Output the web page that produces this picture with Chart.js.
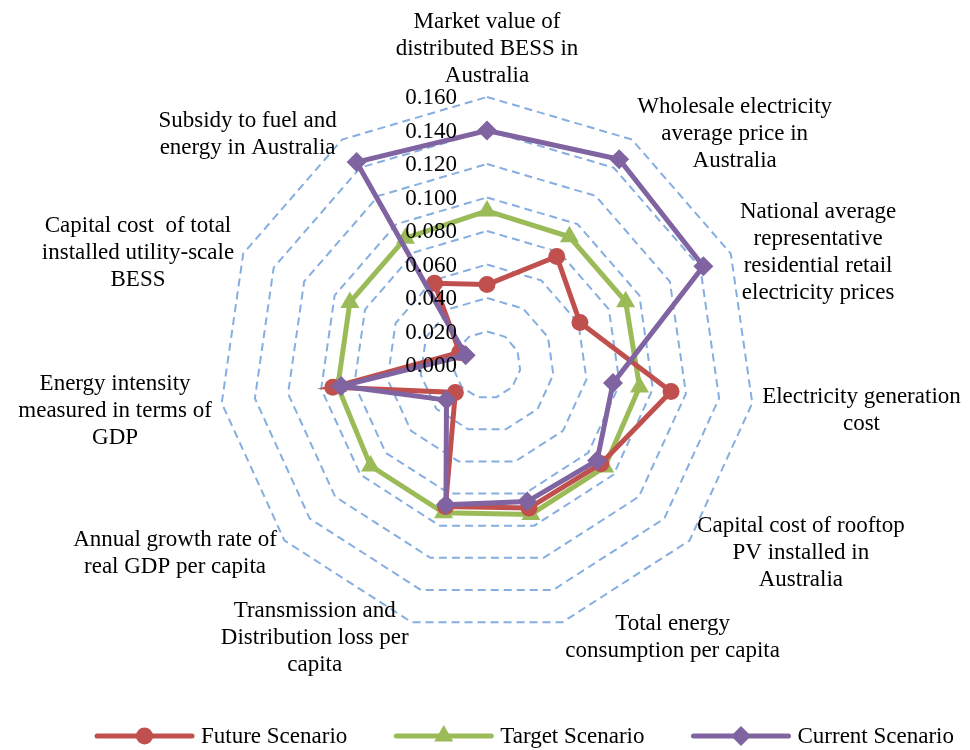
<!DOCTYPE html>
<html>
<head>
<meta charset="utf-8">
<script src="https://cdn.jsdelivr.net/npm/chart.js@4.4.1/dist/chart.umd.min.js"></script>
<style>
  html, body { margin: 0; padding: 0; background: #fff; }
  #wrap { width: 970px; height: 750px; position: relative; }
</style>
</head>
<body>
<div id="wrap"><canvas id="radar" width="970" height="750"></canvas></div>
<script>
// categories clockwise from the top
const categories = [
  ['Market value of', 'distributed BESS in', 'Australia'],
  ['Wholesale electricity', 'average price in', 'Australia'],
  ['National average', 'representative', 'residential retail', 'electricity prices'],
  ['Electricity generation', 'cost'],
  ['Capital cost of rooftop', 'PV installed in', 'Australia'],
  ['Total energy', 'consumption per capita'],
  ['Transmission and', 'Distribution loss per', 'capita'],
  ['Annual growth rate of', 'real GDP per capita'],
  ['Energy intensity', 'measured in terms of', 'GDP'],
  ['Capital cost  of total', 'installed utility-scale', 'BESS'],
  ['Subsidy to fuel and', 'energy in Australia']
];
const seriesNames = ['Future Scenario', 'Target Scenario', 'Current Scenario'];
const futureScenario = [0.048, 0.077, 0.061, 0.111, 0.090, 0.089, 0.088, 0.025, 0.093, 0.018, 0.058];
const targetScenario = [0.092, 0.091, 0.091, 0.092, 0.093, 0.093, 0.092, 0.092, 0.090, 0.090, 0.090];
const currentScenario = [0.140, 0.146, 0.142, 0.076, 0.087, 0.085, 0.087, 0.032, 0.088, 0.014, 0.144];
const tickLabels = ['0.000', '0.020', '0.040', '0.060', '0.080', '0.100', '0.120', '0.140', '0.160'];

const colors = { future: '#C0504D', target: '#9BBB59', current: '#8064A2', grid: '#86AEE0' };
const FONT = '23px "Liberation Serif", "Times New Roman", serif';
const LINE_HEIGHT = 27;

// legend entries: name, colour, point style, radius
const legendItems = [
  [seriesNames[0], colors.future, 'circle', 8.5],
  [seriesNames[1], colors.target, 'triangle', 11],
  [seriesNames[2], colors.current, 'rectRot', 10]
];

const radarText = {
  id: 'radarText',
  afterDatasetsDraw(chart) {
    const scale = chart.scales.r;
    const ctx = chart.ctx;
    ctx.save();
    ctx.font = FONT;
    ctx.fillStyle = '#000';
    ctx.textBaseline = 'middle';

    // value labels sit left of the vertical axis
    ctx.textAlign = 'right';
    scale.ticks.forEach((tick, i) => {
      const y = scale.yCenter - scale.getDistanceFromCenterForValue(tick.value);
      ctx.fillText(tickLabels[i], scale.xCenter - 30, y + 1);
    });

    // category labels, lines centred inside their box
    ctx.textAlign = 'center';
    categories.forEach((lines, i) => {
      const p = scale.getPointPosition(i, scale.drawingArea + 10);
      const width = Math.max(...lines.map(line => ctx.measureText(line).width));
      const height = lines.length * LINE_HEIGHT;
      const dx = p.x - scale.xCenter;
      let cx, top;
      if (Math.abs(dx) < 10) {
        cx = p.x;
        top = p.y < scale.yCenter ? p.y - height + 2 : p.y;
      } else {
        cx = dx > 0 ? p.x + width / 2 : p.x - width / 2;
        top = p.y - height / 2 + (p.y > scale.yCenter ? 6 : 3);
      }
      lines.forEach((line, k) => ctx.fillText(line, cx, top + LINE_HEIGHT * (k + 0.5)));
    });
    ctx.restore();
  },
  afterDraw(chart) {
    const ctx = chart.ctx;
    const y = 736;
    let x = 97;
    ctx.save();
    ctx.font = FONT;
    ctx.textBaseline = 'middle';
    ctx.textAlign = 'left';
    legendItems.forEach(([name, color, style, radius]) => {
      ctx.strokeStyle = color;
      ctx.fillStyle = color;
      ctx.lineWidth = 5;
      ctx.lineCap = 'round';
      ctx.beginPath();
      ctx.moveTo(x, y);
      ctx.lineTo(x + 95, y);
      ctx.stroke();
      Chart.helpers.drawPoint(ctx, { pointStyle: style, radius, rotation: 0, borderWidth: 0 }, x + 47.5, y);
      ctx.fillStyle = '#000';
      ctx.fillText(name, x + 104, y + 1);
      x += 104 + ctx.measureText(name).width + 49;
    });
    ctx.restore();
  }
};

const dataset = (label, data, color, style, radius, order) => ({
  label,
  data,
  borderColor: color,
  backgroundColor: color,
  borderWidth: 5,
  fill: false,
  tension: 0,
  pointStyle: style,
  pointRadius: radius,
  pointBorderWidth: 0,
  pointBackgroundColor: color,
  order
});

new Chart(document.getElementById('radar'), {
  type: 'radar',
  data: {
    labels: categories,
    datasets: [
      dataset(seriesNames[0], futureScenario, colors.future, 'circle', 8.5, 1),
      dataset(seriesNames[1], targetScenario, colors.target, 'triangle', 11, 2),
      dataset(seriesNames[2], currentScenario, colors.current, 'rectRot', 10, 0)
    ]
  },
  options: {
    responsive: false,
    animation: false,
    events: [],
    layout: { padding: { left: 219, right: 215, top: 97, bottom: 117 } },
    plugins: { legend: { display: false }, tooltip: { enabled: false } },
    scales: {
      r: {
        min: 0,
        max: 0.16,
        ticks: { stepSize: 0.02, display: false },
        pointLabels: { display: false },
        angleLines: { display: false },
        grid: { color: colors.grid, lineWidth: 2 },
        border: { dash: [8, 5] }
      }
    }
  },
  plugins: [radarText]
});
</script>
</body>
</html>
